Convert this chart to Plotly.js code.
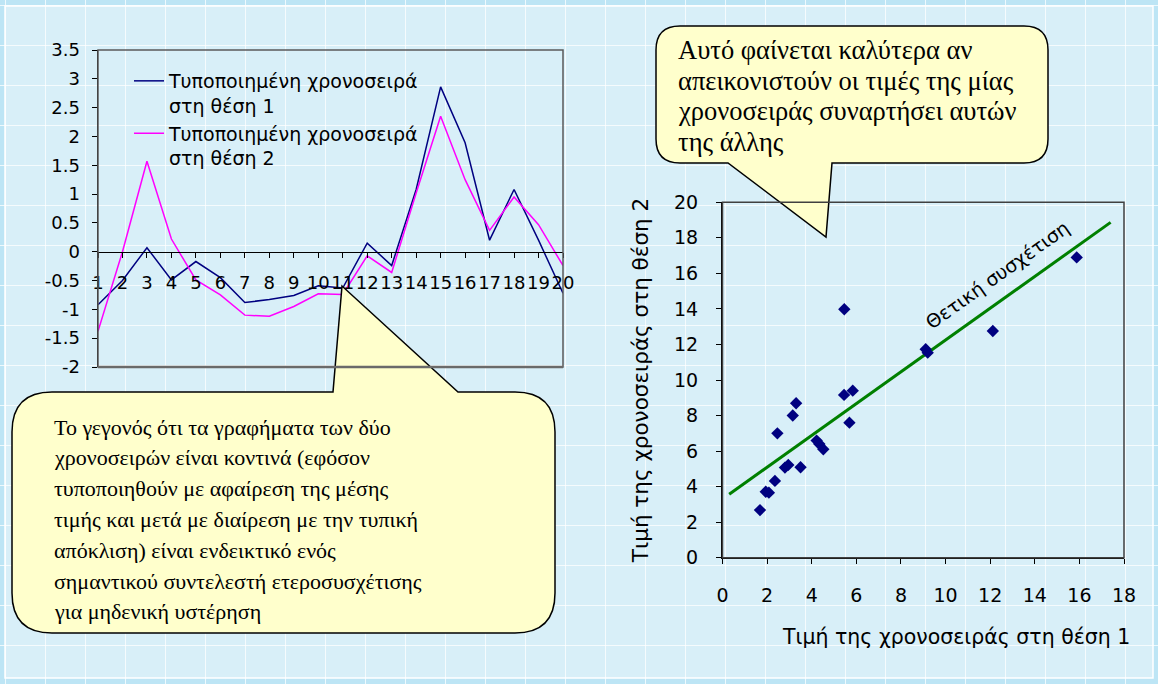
<!DOCTYPE html>
<html><head><meta charset="utf-8">
<script src="https://cdn.plot.ly/plotly-3.0.1.min.js"></script>
<style>html,body{margin:0;padding:0;overflow:hidden;background:#BDE5F5}</style>
</head><body><div id="chart" style="width:1158px;height:684px"></div>
<script>
// ---------- data ----------
const timeIndex = [1,2,3,4,5,6,7,8,9,10,11,12,13,14,15,16,17,18,19,20];
const series1Name = 'Τυποποιημένη χρονοσειρά<br>στη θέση 1';
const series2Name = 'Τυποποιημένη χρονοσειρά<br>στη θέση 2';
const series1 = [-0.92,-0.5,0.07,-0.49,-0.17,-0.45,-0.88,-0.83,-0.76,-0.59,-0.63,0.15,-0.24,1.08,2.86,1.89,0.2,1.08,0.2,-0.72];
const series2 = [-1.38,0.0,1.57,0.22,-0.49,-0.75,-1.1,-1.12,-0.95,-0.73,-0.74,-0.07,-0.36,1.02,2.35,1.25,0.37,0.95,0.47,-0.24];
const lineYTicks = [-2,-1.5,-1,-0.5,0,0.5,1,1.5,2,2.5,3,3.5];
const lineYTickText = ['-2','-1.5','-1','-0.5','0','0.5','1','1.5','2','2.5','3','3.5'];

const scatterX = [1.68,1.94,2.08,2.35,2.46,2.8,2.95,3.15,3.3,3.5,4.22,4.34,4.52,5.45,5.84,5.69,5.46,9.11,9.2,12.12,15.88];
const scatterY = [2.68,3.71,3.66,4.32,7.0,5.07,5.22,8.0,8.69,5.09,6.59,6.4,6.1,9.16,9.4,7.6,13.98,11.73,11.54,12.76,16.9];
const trendX = [0.3,17.4];
const trendY = [3.57,18.87];
const trendLabel = 'Θετική συσχέτιση';
const scatterXTitle = 'Τιμή της χρονοσειράς στη θέση 1';
const scatterYTitle = 'Τιμή της χρονοσειράς στη θέση 2';

const calloutLeftLines = [
  'Το γεγονός ότι τα γραφήματα των δύο',
  'χρονοσειρών είναι κοντινά (εφόσον',
  'τυποποιηθούν με αφαίρεση της μέσης',
  'τιμής και μετά με διαίρεση με την τυπική',
  'απόκλιση) είναι ενδεικτικό ενός',
  'σημαντικού συντελεστή ετεροσυσχέτισης',
  'για μηδενική υστέρηση'
];
const calloutRightLines = [
  'Αυτό φαίνεται καλύτερα αν',
  'απεικονιστούν οι τιμές της μίας',
  'χρονοσειράς συναρτήσει αυτών',
  'της άλλης'
];

// ---------- layout helpers ----------
const W = 1158, H = 684;
const fx = p => p / W;
const fy = p => 1 - p / H;

const lyD = [fy(367), fy(50)];
const lineRange = [-2, 3.5];
const zeroPos = lyD[0] + (0 - lineRange[0]) / (lineRange[1] - lineRange[0]) * (lyD[1] - lyD[0]);

const SANS = 'DejaVu Sans, Verdana, sans-serif';
const SERIF = 'Liberation Serif, Times New Roman, Times, DejaVu Serif, serif';
const tickFont = {family: SANS, size: 18, color: '#000'};
const tickFontR = {family: SANS, size: 19, color: '#000'};
const serifL = {family: SERIF, size: 22, color: '#000'};
const serifR = {family: SERIF, size: 26.5, color: '#000'};

function calloutPath(x0, y0, x1, y1, r, side, b0, tipX, tipY, b1) {
  let p = `M ${x0+r},${y0} `;
  if (side === 'top') p += `L ${b0},${y0} L ${tipX},${tipY} L ${b1},${y0} `;
  p += `L ${x1-r},${y0} Q ${x1},${y0} ${x1},${y0+r} L ${x1},${y1-r} Q ${x1},${y1} ${x1-r},${y1} `;
  if (side === 'bottom') p += `L ${b1},${y1} L ${tipX},${tipY} L ${b0},${y1} `;
  p += `L ${x0+r},${y1} Q ${x0},${y1} ${x0},${y1-r} L ${x0},${y0+r} Q ${x0},${y0} ${x0+r},${y0} Z`;
  return p;
}

const traces = [
  {x: [], y: [], xaxis: 'x', yaxis: 'y', type: 'scatter', showlegend: false, hoverinfo: 'skip'},
  {x: timeIndex, y: series1, name: series1Name, xaxis: 'x2', yaxis: 'y2', type: 'scatter', mode: 'lines',
   line: {color: '#000080', width: 1.5}},
  {x: timeIndex, y: series2, name: series2Name, xaxis: 'x2', yaxis: 'y2', type: 'scatter', mode: 'lines',
   line: {color: '#FF00FF', width: 1.5}},
  {x: trendX, y: trendY, xaxis: 'x3', yaxis: 'y3', type: 'scatter', mode: 'lines', showlegend: false,
   line: {color: '#008000', width: 3}},
  {x: scatterX, y: scatterY, xaxis: 'x3', yaxis: 'y3', type: 'scatter', mode: 'markers', showlegend: false,
   marker: {symbol: 'diamond', size: 9.5, color: '#000080'}}
];

const annotations = [];
calloutLeftLines.forEach((t, i) => annotations.push({
  text: t, xref: 'x', yref: 'y', x: 52, y: 427 + i * 30.8, xanchor: 'left', yanchor: 'middle',
  showarrow: false, font: serifL
}));
calloutRightLines.forEach((t, i) => annotations.push({
  text: t, xref: 'x', yref: 'y', x: 676, y: 50 + i * 30.7, xanchor: 'left', yanchor: 'middle',
  showarrow: false, font: serifR
}));
annotations.push({text: trendLabel, xref: 'x', yref: 'y', x: 997, y: 275, textangle: -35.5,
  showarrow: false, font: {family: SANS, size: 19, color: '#000'}});
annotations.push({text: scatterXTitle, xref: 'x', yref: 'y', x: 956, y: 637, xanchor: 'center', yanchor: 'middle',
  showarrow: false, font: {family: SANS, size: 20.5, color: '#000'}});

const shapes = [
  {type: 'rect', xref: 'x', yref: 'y', x0: 5, x1: 1153, y0: 6, y1: 678, layer: 'below',
   fillcolor: '#D8EFF8', line: {color: '#FFFFFF', width: 1.5}},
  {type: 'path', xref: 'x', yref: 'y', path: calloutPath(12, 392, 555, 633, 40, 'top', 333, 342, 286, 458),
   fillcolor: '#FFFFCC', line: {color: '#000', width: 1.5}},
  {type: 'path', xref: 'x', yref: 'y', path: calloutPath(656, 26, 1048, 163, 24, 'bottom', 728, 826, 237, 832),
   fillcolor: '#FFFFCC', line: {color: '#000', width: 1.5}},
  {type: 'rect', xref: 'x2 domain', yref: 'y2 domain', x0: 0, x1: 1, y0: 0, y1: 1,
   line: {color: '#5A5A5A', width: 1.5}},
  {type: 'line', xref: 'x2 domain', yref: 'y2 domain', x0: 0, x1: 1, y0: 0, y1: 0,
   line: {color: '#6A6A6A', width: 2.5}},
  {type: 'rect', xref: 'x3 domain', yref: 'y3 domain', x0: 0, x1: 1, y0: 0, y1: 1,
   line: {color: '#404040', width: 1.5}}
];

const gridAxis = {showgrid: true, gridcolor: 'rgba(255,255,255,0.75)', gridwidth: 1, tick0: 5, dtick: 40,
  showticklabels: false, ticks: '', zeroline: false, showline: false, fixedrange: true};

const layout = {
  width: W, height: H,
  margin: {l: 0, r: 0, t: 0, b: 0, pad: 0},
  paper_bgcolor: '#BDE5F5',
  plot_bgcolor: 'rgba(0,0,0,0)',
  showlegend: true,
  legend: {x: fx(129), y: fy(62), xanchor: 'left', yanchor: 'top', bgcolor: 'rgba(0,0,0,0)',
    font: {family: SANS, size: 19, color: '#000'}, valign: 'top', borderwidth: 0},
  xaxis: Object.assign({domain: [0, 1], range: [0, W]}, gridAxis),
  yaxis: Object.assign({domain: [0, 1], range: [H, 0]}, gridAxis),
  xaxis2: {domain: [fx(98), fx(563)], range: [1, 20], anchor: 'free', position: zeroPos,
    tickvals: timeIndex, ticktext: timeIndex.map(String), tickangle: 0, ticks: 'outside', ticklen: 5, tickcolor: '#000',
    showline: true, linecolor: '#000', linewidth: 1.5, showgrid: false, zeroline: false,
    tickfont: tickFont, ticklabelstandoff: 9, fixedrange: true},
  yaxis2: {domain: lyD, range: lineRange, anchor: 'x2',
    tickvals: lineYTicks, ticktext: lineYTickText, ticks: 'outside', ticklen: 5, tickcolor: '#000',
    showline: true, linecolor: '#000', linewidth: 1.5, showgrid: false, zeroline: false,
    tickfont: tickFont, ticklabelstandoff: 8, fixedrange: true},
  xaxis3: {domain: [fx(722.5), fx(1124)], range: [0, 18], anchor: 'y3', dtick: 2, tick0: 0, tickangle: 0,
    ticks: 'outside', ticklen: 5, tickcolor: '#000', showline: true, linecolor: '#000', linewidth: 1.5,
    showgrid: false, zeroline: false, tickfont: tickFontR, ticklabelstandoff: 15, fixedrange: true},
  yaxis3: {domain: [fy(557.7), fy(202.3)], range: [0, 20], anchor: 'x3', dtick: 2, tick0: 0,
    ticks: 'outside', ticklen: 5, tickcolor: '#000', showline: true, linecolor: '#000', linewidth: 1.5,
    showgrid: false, zeroline: false, tickfont: tickFontR, ticklabelstandoff: 14, fixedrange: true,
    title: {text: scatterYTitle, font: {family: SANS, size: 21.5, color: '#000'}, standoff: 19}},
  shapes: shapes,
  annotations: annotations
};

Plotly.newPlot('chart', traces, layout, {staticPlot: true, displayModeBar: false});
</script>
</body></html>
